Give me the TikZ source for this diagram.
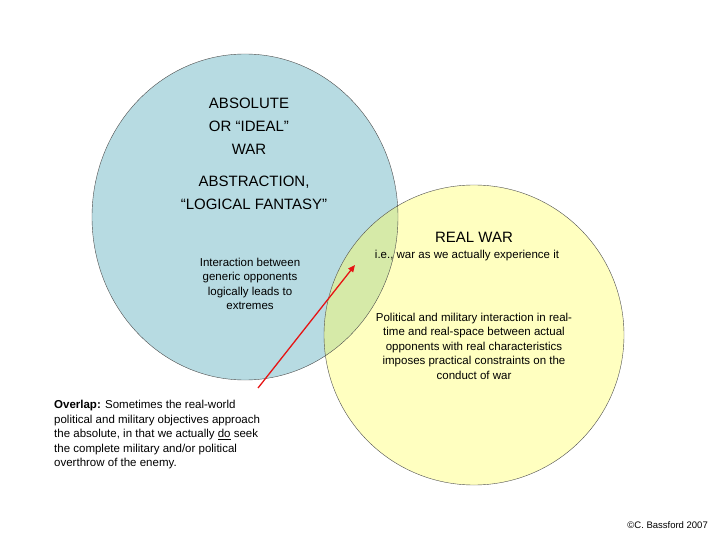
\documentclass[tikz,border=0pt]{standalone}
\usepackage{fontspec}
\setmainfont{Liberation Sans}
\usetikzlibrary{arrows.meta,positioning}
\definecolor{absblue}{RGB}{183,219,226}
\definecolor{realyellow}{RGB}{255,255,192}
\definecolor{overlapgreen}{RGB}{214,234,168}
\definecolor{arrowred}{RGB}{230,20,20}
\begin{document}
\begin{tikzpicture}[x=1pt,y=-1pt]
  \tikzstyle{big}=[font=\fontsize{15}{23}\selectfont,align=center,inner sep=0pt]
  \tikzstyle{small}=[font=\fontsize{11.5}{14.5}\selectfont,align=center,inner sep=0pt]

  \useasboundingbox (0,0) rectangle (720,540);

  % circles
  \fill[absblue] (245,217) ellipse (153 and 163);
  \fill[realyellow] (474,335) circle (150);
  \begin{scope}
    \clip (245,217) ellipse (153 and 163);
    \fill[overlapgreen] (474,335) circle (150);
  \end{scope}
  \draw[black!70] (245,217) ellipse (153 and 163);
  \draw[black!70] (474,335) circle (150);

  % texts
  \node[big] (absolute) at (249,126) {ABSOLUTE\\OR “IDEAL”\\WAR};
  \node[big] (abstraction) at (254,193) {ABSTRACTION,\\“LOGICAL FANTASY”};
  \node[small] (generic) at (250,284) {Interaction between\\generic opponents\\logically leads to\\extremes};
  \node[big] (real) at (474,237) {REAL WAR};
  \node[small] (experience) at (467,256) {i.e., war as we actually experience it};
  \node[small] (political) at (474,346) {Political and military interaction in real-\\time and real-space between actual\\opponents with real characteristics\\imposes practical constraints on the\\conduct of war};
  \node[small,align=left,anchor=north west] (overlap) at (54,400)
    {\textbf{Overlap:} Sometimes the real-world\\political and military objectives approach\\the absolute, in that we actually \underline{do} seek\\the complete military and/or political\\overthrow of the enemy.};
  \node[font=\fontsize{9.5}{11}\selectfont,anchor=south east,inner sep=0pt] (credit) at (708,529) {©C. Bassford 2007};

  % arrow
  \coordinate (tail) at (258,388);
  \coordinate (tip) at (355,265);
  \draw[arrowred,line width=1.3pt,-{Triangle[length=7pt,width=6pt]}] (tail) -- (tip);
\end{tikzpicture}
\end{document}
